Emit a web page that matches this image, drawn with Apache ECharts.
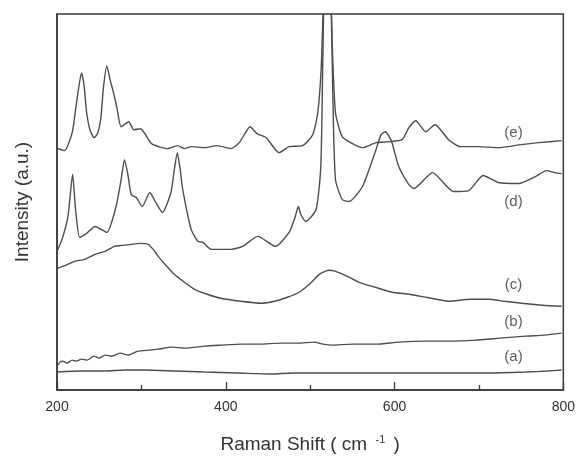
<!DOCTYPE html>
<html>
<head>
<meta charset="utf-8">
<script src="https://cdn.jsdelivr.net/npm/echarts@6/dist/echarts.min.js"></script>
<style>
  html, body { margin: 0; padding: 0; background: #fff; }
  #chart { width: 578px; height: 459px; }
</style>
</head>
<body>
<div id="chart"></div>
<script>
// Raman spectra, [shift (cm-1), intensity (a.u., stacked offsets)]
const curveE = [
  [201, 242], [209, 240], [218, 258], [222, 281], [225, 299], [229, 318], [232, 306], [235, 279],
  [239, 261], [244, 253], [248, 257], [252, 273], [255, 303], [259, 325], [263, 311], [267, 298],
  [271, 283], [276, 264], [285, 269], [291, 261], [299, 262], [312, 247], [331, 242], [343, 245],
  [351, 242], [359, 244], [375, 243], [390, 245], [406, 242], [416, 248], [429, 264], [437, 257],
  [448, 253], [463, 238], [475, 244], [491, 245], [503, 256], [509, 278], [513, 321], [515, 371],
  [518, 420], [520.5, 470], [524, 420], [526, 351], [530, 278], [538, 254], [550, 247], [562, 243],
  [578, 248], [593, 249], [609, 251], [617, 263], [625, 270], [637, 259], [648, 266], [664, 251],
  [678, 244], [700, 244], [723, 243], [750, 246], [771, 248], [798, 250]
];
const curveD = [
  [200, 139], [206, 151], [213, 174], [218.5, 216], [222, 181], [227, 153], [235, 157], [245, 164],
  [259, 158], [270, 184], [276, 211], [280, 231], [284, 216], [288, 196], [294, 193], [301, 184],
  [310, 198], [317, 188], [325, 178], [335, 198], [339, 221], [342.6, 238], [346, 221], [349, 201],
  [359, 161], [367, 149], [373, 148], [383, 141], [406, 141], [420, 144], [438, 154], [459, 144],
  [475, 158], [482, 173], [486, 184], [489, 176], [495, 169], [507, 181], [512.6, 224], [515, 331],
  [517, 420], [520.5, 470], [524, 420], [527, 291], [530, 211], [538, 191], [546, 189], [562, 204],
  [578, 241], [584, 256], [589, 259], [593, 255], [597, 248], [605, 224], [617, 206], [623, 202],
  [645, 218], [670, 199], [688, 200], [705, 215], [723, 208], [747, 207], [767, 214], [780, 220],
  [790, 218], [798, 217]
];
const curveC = [
  [200, 122], [210, 125], [221, 129], [233, 131], [245, 136], [257, 139], [268, 144], [278, 145],
  [288, 146], [298, 147], [308, 146], [314, 141], [320, 134], [330, 124], [339, 116], [351, 108],
  [363, 101], [378, 96], [394, 92], [418, 89], [442, 87], [458, 89], [473, 93], [487, 98],
  [499, 106], [511, 116], [522, 120], [530, 119], [544, 114], [558, 108], [577, 103], [597, 98],
  [617, 96], [637, 93], [650, 91], [664, 89], [690, 91], [711, 91], [730, 89], [751, 87],
  [775, 85], [798, 84]
];
const curveB = [
  [200, 24], [204, 28], [207, 29], [212, 27], [218, 30], [223, 29], [229, 31], [236, 30],
  [244, 34], [250, 32], [257, 35], [265, 34], [275, 37], [284, 35], [296, 39], [310, 40],
  [320, 41], [336, 43], [352, 42], [375, 44], [395, 45], [418, 46], [440, 46], [465, 47],
  [485, 47], [505, 48], [515, 46], [526, 45], [550, 46], [578, 46], [605, 48], [637, 49],
  [665, 49], [696, 50], [725, 52], [755, 54], [778, 55], [798, 57]
];
const curveA = [
  [200, 18], [230, 19], [257, 19], [280, 20], [304, 20], [340, 19], [375, 18], [415, 17],
  [454, 16], [480, 17], [505, 17], [538, 17], [600, 17], [656, 17], [710, 17], [755, 18],
  [780, 19], [798, 20]
];
const curveLabels = [
  { name: '(e)', value: [741, 258] },
  { name: '(d)', value: [741, 189] },
  { name: '(c)', value: [741, 105] },
  { name: '(b)', value: [741, 68] },
  { name: '(a)', value: [741, 33] }
];
const xTicks = [200, 400, 600, 800];

const chart = echarts.init(document.getElementById('chart'));

function spectrum(data) {
  return {
    type: 'line',
    data: data,
    showSymbol: false,
    smooth: 0.2,
    clip: true,
    lineStyle: { color: '#4d4d4d', width: 1.4 },
    silent: true
  };
}

const option = {
  animation: false,
  grid: {
    left: 57, right: 13, top: 14, bottom: 68,
    show: true, borderColor: '#3a3a3a', borderWidth: 1.5
  },
  xAxis: {
    type: 'value',
    min: xTicks[0],
    max: xTicks[xTicks.length - 1],
    interval: 200,
    name: '{t|Raman Shift ( cm }{s| -1}{t| )}',
    nameLocation: 'middle',
    nameGap: 44,
    nameTextStyle: {
      rich: {
        t: { fontFamily: 'Liberation Sans', fontSize: 19, color: '#333' },
        s: { fontFamily: 'Liberation Sans', fontSize: 11, color: '#333', verticalAlign: 'top', padding: [0, 3, 10, 0] }
      }
    },
    axisLine: { show: true, lineStyle: { color: '#3a3a3a', width: 1.5 } },
    axisTick: { show: true, inside: true, length: 8, lineStyle: { color: '#3a3a3a', width: 1.3 } },
    minorTick: { show: true, splitNumber: 2, length: 5, lineStyle: { color: '#3a3a3a', width: 1.3 } },
    splitLine: { show: false },
    axisLabel: { margin: 10, fontFamily: 'Liberation Sans', fontSize: 14, color: '#333' }
  },
  yAxis: {
    type: 'value',
    min: 0,
    max: 377,
    name: 'Intensity (a.u.)',
    nameLocation: 'middle',
    nameGap: 25,
    nameTextStyle: { fontFamily: 'Liberation Sans', fontSize: 19, color: '#333' },
    axisLine: { show: true, lineStyle: { color: '#3a3a3a', width: 1.5 } },
    axisTick: { show: false },
    axisLabel: { show: false },
    splitLine: { show: false }
  },
  series: [
    spectrum(curveA),
    spectrum(curveB),
    spectrum(curveC),
    spectrum(curveD),
    spectrum(curveE),
    {
      type: 'scatter',
      data: curveLabels,
      symbolSize: 0,
      silent: true,
      label: {
        show: true,
        position: 'inside',
        formatter: '{b}',
        fontFamily: 'Liberation Sans',
        fontSize: 15,
        color: '#333'
      }
    }
  ]
};

chart.setOption(option);
</script>
</body>
</html>
